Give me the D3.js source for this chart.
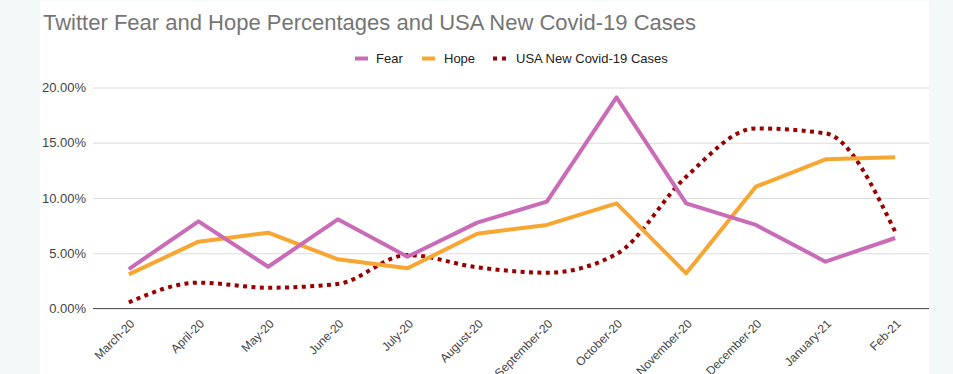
<!DOCTYPE html>
<html>
<head>
<meta charset="utf-8">
<script src="https://cdn.jsdelivr.net/npm/d3@7"></script>
<style>
  html, body { margin: 0; padding: 0; background: #f3f8f9; }
  svg { display: block; font-family: "Liberation Sans", Arial, sans-serif; }
</style>
</head>
<body>
<svg id="chart" width="953" height="374"></svg>
<script>
// Monthly categories
const months = ["March-20", "April-20", "May-20", "June-20", "July-20", "August-20",
  "September-20", "October-20", "November-20", "December-20", "January-21", "Feb-21"];

// Percent values per month
const fear  = [3.57, 7.89, 3.78, 8.07, 4.69, 7.77, 9.67, 19.11, 9.52, 7.56, 4.24, 6.38];
const hope  = [3.09, 6.05, 6.86, 4.45, 3.64, 6.77, 7.56, 9.52, 3.18, 11.02, 13.50, 13.68];
const cases = [0.56, 2.34, 1.88, 2.22, 4.84, 3.73, 3.24, 4.93, 11.93, 16.30, 15.85, 6.95];

const yTicks = [0, 5, 10, 15, 20];

const seriesNames = ["Fear", "Hope", "USA New Covid-19 Cases"];
const colors = ["#c96bb6", "#f7a631", "#990000"];

const svg = d3.select("#chart");

// white card
svg.append("rect").attr("x", 40).attr("y", 1).attr("width", 889).attr("height", 373).attr("fill", "#ffffff");

const x = d3.scalePoint().domain(months).range([94, 930]).padding(0.5);
const y = d3.scaleLinear().domain([0, 20]).range([308.5, 87.5]);

// title
svg.append("text")
  .attr("x", 43).attr("y", 30)
  .attr("fill", "#757575")
  .attr("font-size", 22)
  .text("Twitter Fear and Hope Percentages and USA New Covid-19 Cases");

// gridlines + y labels
const yAxis = d3.axisLeft(y).tickValues(yTicks).tickSize(-836).tickPadding(7)
  .tickFormat(d => d.toFixed(2) + "%");
const gy = svg.append("g").attr("transform", "translate(93,0)").call(yAxis);
gy.select(".domain").remove();
gy.selectAll(".tick line").attr("stroke", "#dcdcdc").attr("stroke-width", 1);
gy.selectAll(".tick text").attr("fill", "#444").attr("font-size", 13)
  .attr("font-family", "Liberation Sans, Arial, sans-serif");

// baseline
svg.append("line").attr("x1", 93).attr("x2", 929).attr("y1", y(0)).attr("y2", y(0))
  .attr("stroke", "#555").attr("stroke-width", 1.2);

// x axis labels
const xAxis = d3.axisBottom(x).tickSize(0).tickPadding(0);
const gx = svg.append("g").attr("transform", `translate(0,${y(0)})`).call(xAxis);
gx.select(".domain").remove();
gx.selectAll(".tick text")
  .attr("fill", "#444").attr("font-size", 12)
  .attr("font-family", "Liberation Sans, Arial, sans-serif")
  .attr("text-anchor", "end")
  .attr("dy", null).attr("y", 0)
  .attr("transform", "translate(6,16) rotate(-45)");

// lines
const straight = d3.line().x((d, i) => x(months[i])).y(d => y(d));
const smooth = d3.line().x((d, i) => x(months[i])).y(d => y(d)).curve(d3.curveMonotoneX);

svg.append("path").datum(cases).attr("d", smooth)
  .attr("fill", "none").attr("stroke", colors[2]).attr("stroke-width", 4)
  .attr("stroke-dasharray", "4 4.4");
svg.append("path").datum(hope).attr("d", straight)
  .attr("fill", "none").attr("stroke", colors[1]).attr("stroke-width", 4)
  .attr("stroke-linejoin", "round");
svg.append("path").datum(fear).attr("d", straight)
  .attr("fill", "none").attr("stroke", colors[0]).attr("stroke-width", 4)
  .attr("stroke-linejoin", "round");

// legend
const legend = svg.append("g").attr("font-size", 13).attr("fill", "#222");
const ly = 58.5;
legend.append("rect").attr("x", 355).attr("y", ly - 2).attr("width", 13).attr("height", 4).attr("fill", colors[0]);
legend.append("text").attr("x", 376).attr("y", ly + 4.6).text(seriesNames[0]);
legend.append("rect").attr("x", 422).attr("y", ly - 2).attr("width", 13).attr("height", 4).attr("fill", colors[1]);
legend.append("text").attr("x", 444).attr("y", ly + 4.6).text(seriesNames[1]);
legend.append("rect").attr("x", 493).attr("y", ly - 2).attr("width", 4).attr("height", 4).attr("fill", colors[2]);
legend.append("rect").attr("x", 502).attr("y", ly - 2).attr("width", 4).attr("height", 4).attr("fill", colors[2]);
legend.append("text").attr("x", 516).attr("y", ly + 4.6).text(seriesNames[2]);
</script>
</body>
</html>
